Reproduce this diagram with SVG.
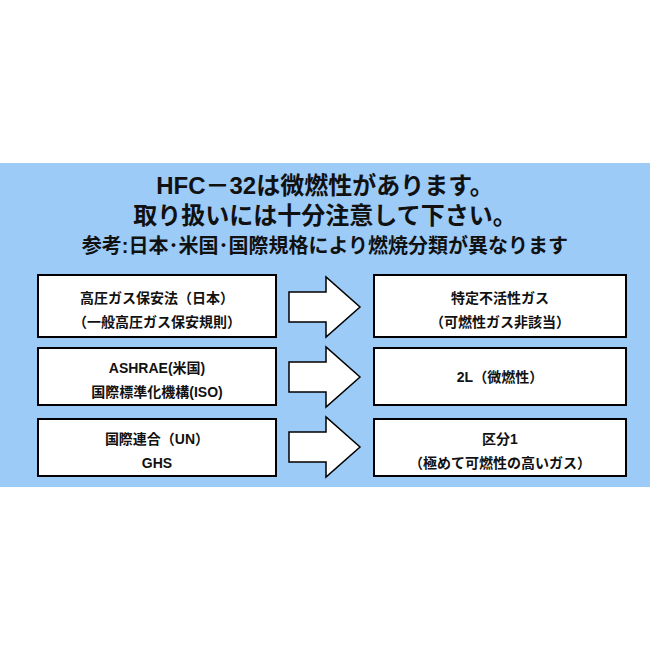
<svg xmlns="http://www.w3.org/2000/svg" width="650" height="650" viewBox="0 0 650 650">
<style>
.t{font-family:"Liberation Sans","Noto Sans CJK JP",sans-serif;font-weight:bold;text-anchor:middle;fill:#111}
.b{fill:#fff;stroke:#000;stroke-width:2}
.a{fill:#fff;stroke:#000;stroke-width:1.5}
</style>
<rect x="0" y="0" width="650" height="650" fill="#fff"/>
<rect x="0" y="163" width="650" height="324" fill="#9ccbf8"/>
<text class="t" x="325" y="194" font-size="24">HFC－32は微燃性があります。</text>
<text class="t" x="325" y="224" font-size="24">取り扱いには十分注意して下さい。</text>
<text class="t" x="325" y="253" font-size="20">参考:日本･米国･国際規格により燃焼分類が異なります</text>
<g id="n1"><rect class="b" x="38" y="275" width="238" height="62"/><text class="t" x="157" y="303" font-size="14">高圧ガス保安法（日本）</text><text class="t" x="157" y="327" font-size="14">（一般高圧ガス保安規則）</text></g>
<g id="n2"><rect class="b" x="38" y="348" width="238" height="57"/><text class="t" x="157" y="373" font-size="14">ASHRAE(米国)</text><text class="t" x="157" y="397" font-size="14">国際標準化機構(ISO)</text></g>
<g id="n3"><rect class="b" x="38" y="419" width="238" height="57"/><text class="t" x="157" y="444" font-size="14">国際連合（UN）</text><text class="t" x="157" y="468" font-size="14">GHS</text></g>
<g id="n4"><rect class="b" x="374" y="275" width="252" height="62"/><text class="t" x="500" y="303" font-size="14">特定不活性ガス</text><text class="t" x="500" y="327" font-size="14">（可燃性ガス非該当）</text></g>
<g id="n5"><rect class="b" x="374" y="348" width="252" height="57"/><text class="t" x="500" y="382" font-size="14">2L（微燃性）</text></g>
<g id="n6"><rect class="b" x="374" y="419" width="252" height="57"/><text class="t" x="500" y="444" font-size="14">区分1</text><text class="t" x="500" y="468" font-size="14">（極めて可燃性の高いガス）</text></g>
<g id="connectors">
<polygon class="a" points="289,292 326,292 326,277 360,307 326,337 326,322 289,322"/>
<polygon class="a" points="289,362 326,362 326,347 360,377 326,407 326,392 289,392"/>
<polygon class="a" points="289,432 326,432 326,417 360,447 326,477 326,462 289,462"/>
</g>
</svg>
